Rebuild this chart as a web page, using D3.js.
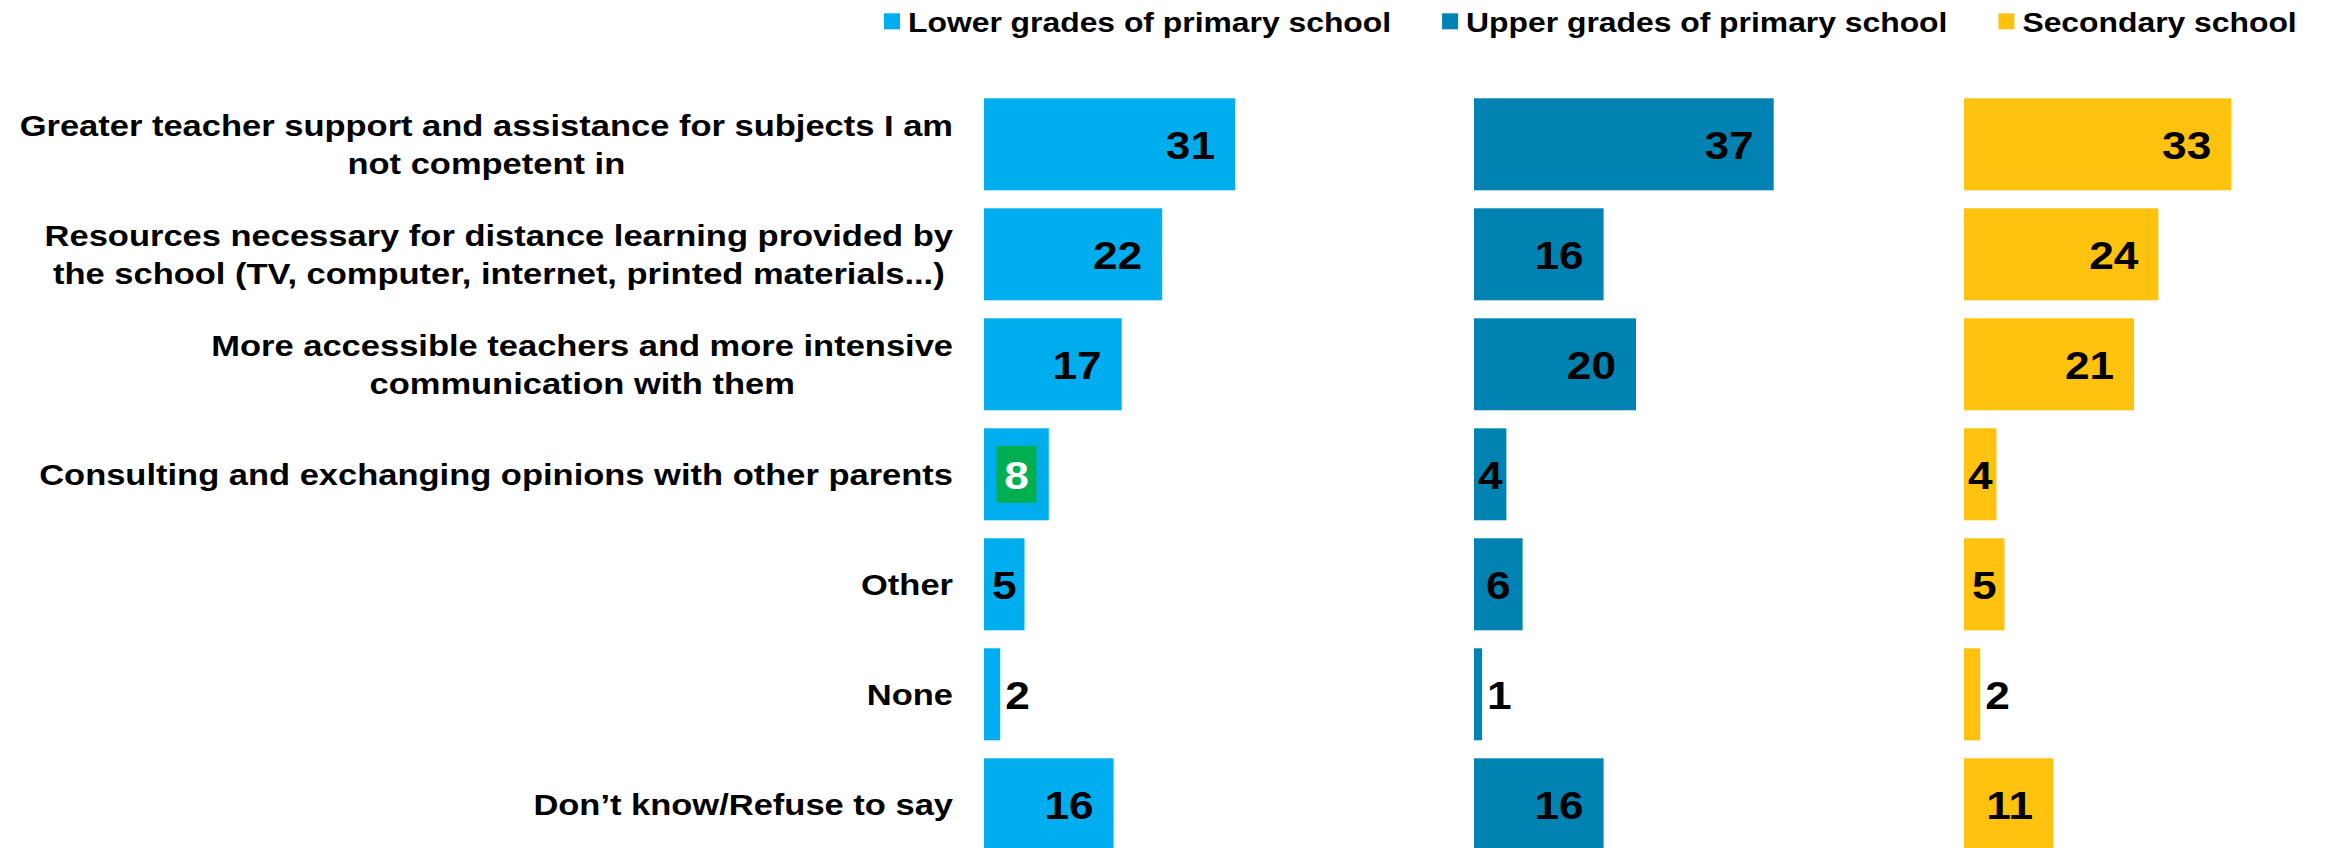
<!DOCTYPE html>
<html>
<head>
<meta charset="utf-8">
<script src="https://cdn.jsdelivr.net/npm/d3@7"></script>
<style>
  html, body { margin: 0; padding: 0; background: #ffffff; }
  svg { display: block; }
  text { font-family: "Liberation Sans", Arial, sans-serif; font-weight: bold; }
</style>
</head>
<body>
<svg id="chart" width="2325" height="848"></svg>
<script>
// ---- data ----
const categories = [
  "Greater teacher support and assistance for subjects I am|not competent in",
  "Resources necessary for distance learning provided by|the school (TV, computer, internet, printed materials...)",
  "More accessible teachers and more intensive|communication with them",
  "Consulting and exchanging opinions with other parents",
  "Other",
  "None",
  "Don’t know/Refuse to say"
];
const seriesNames = ["Lower grades of primary school", "Upper grades of primary school", "Secondary school"];
const lowerPrimary = [31, 22, 17, 8, 5, 2, 16];
const upperPrimary = [37, 16, 20, 4, 6, 1, 16];
const secondary    = [33, 24, 21, 4, 5, 2, 11];
const seriesValues = [lowerPrimary, upperPrimary, secondary];
const seriesColors = ["#00AEEF", "#0083B3", "#FFC20E"];
const highlighted = { series: 0, index: 3 }; // green-boxed label

// ---- layout ----
const labelRight = 953;
const svg = d3.select("#chart");

const y = d3.scaleBand()
  .domain(d3.range(categories.length))
  .range([98.3, 850.3])
  .paddingInner(18 / 110)
  .paddingOuter(0);

const panel = d3.scaleBand()
  .domain(d3.range(seriesNames.length))
  .range([984, 984 + 3 * 490])
  .paddingInner(0);

const x = d3.scaleLinear().domain([0, 60.5]).range([0, panel.bandwidth()]);

function stretchedText(g, tx, ty, str, size, anchor, sx, fill) {
  return g.append("text")
    .attr("transform", `translate(${tx},${ty}) scale(${sx},1)`)
    .attr("text-anchor", anchor)
    .attr("font-size", size)
    .attr("fill", fill || "#000")
    .text(str);
}

// ---- category labels ----
const labelFS = 30, labelSX = 1.15, lineH = 38.5;
const labelG = svg.append("g");
categories.forEach((c, i) => {
  const lines = c.split("|");
  const yc = y(i) + y.bandwidth() / 2;
  const tmp = lines.map(l => stretchedText(labelG, 0, 0, l, labelFS, "middle", labelSX));
  const bw = d3.max(tmp, t => t.node().getComputedTextLength() * labelSX);
  const cx = labelRight - bw / 2;
  tmp.forEach((t, k) => {
    const by = yc + 0.716 * labelFS / 2 + (k - (lines.length - 1) / 2) * lineH;
    t.attr("transform", `translate(${cx},${by}) scale(${labelSX},1)`);
  });
});

// ---- bars + values ----
const valFS = 39.5, valSX = 1.12, inset = 20;
seriesValues.forEach((vals, s) => {
  const g = svg.append("g").attr("transform", `translate(${panel(s)},0)`);
  g.selectAll("rect.bar").data(vals).join("rect")
    .attr("class", "bar")
    .attr("x", 0)
    .attr("y", (d, i) => y(i))
    .attr("width", d => x(d))
    .attr("height", y.bandwidth())
    .attr("fill", seriesColors[s]);

  vals.forEach((v, i) => {
    const yc = y(i) + y.bandwidth() / 2;
    const by = yc + 15;
    const bwid = x(v);
    const t = stretchedText(g, 0, by, String(v), valFS, "end", valSX);
    const tw = t.node().getComputedTextLength() * valSX;
    let tx, anchor;
    if (bwid >= tw + 2 * inset) { tx = bwid - inset; anchor = "end"; }
    else if (bwid >= tw) { tx = bwid / 2; anchor = "middle"; }
    else { tx = bwid + 5; anchor = "start"; }
    t.attr("text-anchor", anchor).attr("transform", `translate(${tx},${by}) scale(${valSX},1)`);
    if (highlighted.series === s && highlighted.index === i) {
      const cx = anchor === "end" ? tx - tw / 2 : anchor === "middle" ? tx : tx + tw / 2;
      g.insert("rect", () => t.node())
        .attr("x", cx - 20).attr("y", yc - 28.5)
        .attr("width", 40).attr("height", 57)
        .attr("fill", "#00B050");
      t.attr("fill", "#ffffff");
    }
  });
});

// ---- legend ----
const legFS = 27, legSX = 1.18;
let lx = 884;
const legG = svg.append("g");
seriesNames.forEach((n, s) => {
  legG.append("rect").attr("x", lx).attr("y", 13.3).attr("width", 16).attr("height", 16)
    .attr("fill", seriesColors[s]);
  const t = stretchedText(legG, lx + 24, 31.7, n, legFS, "start", legSX);
  const tw = t.node().getComputedTextLength() * legSX;
  lx = lx + 24 + tw + 51;
});
</script>
</body>
</html>
